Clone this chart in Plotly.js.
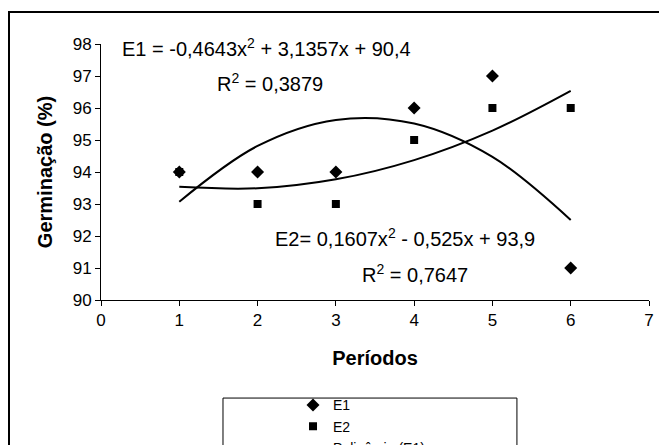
<!DOCTYPE html>
<html><head><meta charset="utf-8">
<script src="https://cdn.plot.ly/plotly-3.0.1.min.js"></script>
<style>
html,body{margin:0;padding:0;overflow:hidden;background:#fff;width:659px;height:445px}
#frame{position:absolute;left:8px;top:11px;border:2px solid #000;width:700px;height:500px;background:#fff}
#chart{width:700px;height:500px}
</style></head><body>
<div id="frame"><div id="chart"></div></div>
<script>
// ---- data ----
const periods = [1, 2, 3, 4, 5, 6];
const e1Values = [94, 94, 94, 96, 97, 91];
const e2Values = [94, 93, 93, 95, 96, 96];
const seriesNames = ['E1', 'E2'];
const trendNames = ['Polinômio (E1)', 'Polinômio (E2)'];
const equationTexts = ['E1 = -0,4643x<sup>2</sup> + 3,1357x + 90,4', 'E2= 0,1607x<sup>2</sup> - 0,525x + 93,9'];
const r2Texts = ['R<sup>2</sup> = 0,3879', 'R<sup>2</sup> = 0,7647'];
const xTickVals = [0, 1, 2, 3, 4, 5, 6, 7];
const yTickVals = [90, 91, 92, 93, 94, 95, 96, 97, 98];
const xTitle = 'Períodos';
const yTitle = 'Germinação (%)';

// quadratic least-squares fit (trend line like the spreadsheet's)
function polyfit2(x, y) {
  const s = [0, 0, 0, 0, 0], t = [0, 0, 0];
  for (let i = 0; i < x.length; i++) {
    let p = 1;
    for (let k = 0; k < 5; k++) { s[k] += p; if (k < 3) t[k] += p * y[i]; p *= x[i]; }
  }
  const A = [[s[0], s[1], s[2], t[0]], [s[1], s[2], s[3], t[1]], [s[2], s[3], s[4], t[2]]];
  for (let c = 0; c < 3; c++) {
    for (let r = c + 1; r < 3; r++) {
      const f = A[r][c] / A[c][c];
      for (let k = c; k < 4; k++) A[r][k] -= f * A[c][k];
    }
  }
  const b = [0, 0, 0];
  for (let r = 2; r >= 0; r--) {
    let v = A[r][3];
    for (let k = r + 1; k < 3; k++) v -= A[r][k] * b[k];
    b[r] = v / A[r][r];
  }
  return b; // c0, c1, c2
}
function fitted(x, y) {
  const b = polyfit2(x, y);
  return x.map(v => b[0] + b[1] * v + b[2] * v * v);
}

const FONT = 'Liberation Sans, Arial, sans-serif';

const traces = [
  {x: periods, y: e1Values, name: seriesNames[0], type: 'scatter', mode: 'markers',
   marker: {symbol: 'diamond', size: 10, color: '#000'}},
  {x: periods, y: e2Values, name: seriesNames[1], type: 'scatter', mode: 'markers',
   marker: {symbol: 'square', size: 8, color: '#000'}},
  {x: periods, y: fitted(periods, e1Values), name: trendNames[0], type: 'scatter', mode: 'lines',
   line: {color: '#000', width: 2, shape: 'spline'}},
  {x: periods, y: fitted(periods, e2Values), name: trendNames[1], type: 'scatter', mode: 'lines',
   line: {color: '#000', width: 2, shape: 'spline'}}
];

const layout = {
  width: 700, height: 500,
  margin: {l: 91, r: 61, t: 31, b: 213, autoexpand: false},
  paper_bgcolor: '#fff', plot_bgcolor: '#fff',
  font: {family: FONT, size: 17, color: '#000'},
  showlegend: true,
  legend: {x: 0.3504, xanchor: 'left', y: -0.349, yanchor: 'top',
           bgcolor: 'rgba(0,0,0,0)', borderwidth: 0, font: {family: FONT, size: 14, color: '#000'}},
  xaxis: {range: [0, 7], tickvals: xTickVals, showgrid: false, zeroline: false,
          showline: true, linecolor: '#000', linewidth: 1, ticks: 'outside', ticklen: 5,
          tickcolor: '#000', tickfont: {family: FONT, size: 17},
          title: {text: '<b>' + xTitle + '</b>', font: {family: FONT, size: 20}, standoff: 21}},
  yaxis: {range: [90, 98], tickvals: yTickVals, showgrid: false, zeroline: false,
          showline: true, linecolor: '#000', linewidth: 1, ticks: 'outside', ticklen: 5,
          tickcolor: '#000', tickfont: {family: FONT, size: 17},
          title: {text: '<b>' + yTitle + '</b>', font: {family: FONT, size: 20}, standoff: 14}},
  shapes: [
    {type: 'rect', xref: 'paper', yref: 'paper', x0: 0.2226, x1: 0.759, y0: -0.95, y1: -0.383,
     line: {color: '#000', width: 1}, fillcolor: 'rgba(0,0,0,0)', layer: 'below'}
  ],
  annotations: [
    {xref: 'x', yref: 'y', x: 0.243, y: 97.9, xanchor: 'left', yanchor: 'middle', showarrow: false,
     text: equationTexts[0], font: {family: FONT, size: 20}},
    {xref: 'x', yref: 'y', x: 2.16, y: 96.8, xanchor: 'center', yanchor: 'middle', showarrow: false,
     text: r2Texts[0], font: {family: FONT, size: 20}},
    {xref: 'x', yref: 'y', x: 2.196, y: 91.95, xanchor: 'left', yanchor: 'middle', showarrow: false,
     text: equationTexts[1], font: {family: FONT, size: 20}},
    {xref: 'x', yref: 'y', x: 4.01, y: 90.83, xanchor: 'center', yanchor: 'middle', showarrow: false,
     text: r2Texts[1], font: {family: FONT, size: 20}}
  ]
};

Plotly.newPlot('chart', traces, layout, {staticPlot: true, displayModeBar: false});
</script>
</body></html>
